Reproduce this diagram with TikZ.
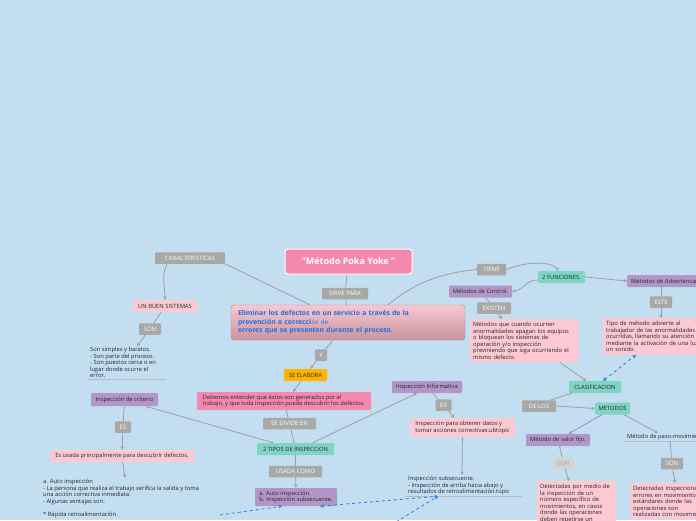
\documentclass[tikz,border=0pt]{standalone}
\usepackage{fontspec}
\setmainfont{Open Sans}
\usetikzlibrary{arrows.meta}

\definecolor{bgblue}{HTML}{C3DEF1}
\definecolor{lblgray}{HTML}{A8A8A6}
\definecolor{palegray}{HTML}{D3D3D3}
\definecolor{softpink}{HTML}{FDC9D3}
\definecolor{hotpink}{HTML}{F489AF}
\definecolor{lilac}{HTML}{B396C9}
\definecolor{lilacline}{HTML}{B07FC8}
\definecolor{mint}{HTML}{7DD5C2}
\definecolor{amber}{HTML}{FFB500}
\definecolor{linegray}{HTML}{9E9E9E}
\definecolor{dashblue}{HTML}{2C7BE0}
\definecolor{inkblue}{HTML}{1C6FE0}
\definecolor{ink}{HTML}{262626}
\definecolor{maintop}{HTML}{F8C8D1}
\definecolor{mainbot}{HTML}{C8939D}
\definecolor{mainedge}{HTML}{B5838E}

\tikzset{
  txt/.style={font=\fontsize{5.8}{6.5}\selectfont, text=ink},
  lbl/.style={fill=lblgray, text=white, font=\fontsize{6}{7}\selectfont, rounded corners=1pt, inner sep=0pt, minimum height=11.5pt},
  topic/.style={txt, rounded corners=1pt, inner sep=2pt, minimum height=12pt},
  pinkbox/.style={topic, fill=softpink},
  lilacbox/.style={topic, fill=lilac},
  mintbox/.style={topic, fill=mint},
  notebox/.style={txt, align=left, inner sep=1pt, anchor=north west},
  titlebox/.style={fill=hotpink, draw=white, line width=1pt, rounded corners=3pt, minimum width=127pt, minimum height=25pt, text=white, font=\bfseries\fontsize{9}{10}\selectfont},
  mainbox/.style={top color=maintop, bottom color=mainbot, draw=mainedge, rounded corners=3pt, minimum width=234pt, minimum height=35pt, text width=220pt, align=left, text=inkblue, font=\bfseries\fontsize{6.8}{8.3}\selectfont},
  conn/.style={draw=linegray, line width=0.8pt},
  link/.style={draw=dashblue, dashed, line width=0.8pt},
  uline/.style={draw=linegray!70, line width=0.5pt},
}

\begin{document}
\begin{tikzpicture}[>={Stealth[length=3.5pt,width=3.5pt]}, x=1pt, y=-1pt]
    \useasboundingbox (0,0) rectangle (696,520);
    \fill[bgblue] (0,0) rectangle (696,520);
    \clip (0,0) rectangle (696,520);

    % central topic
    \node[titlebox] (poka) at (348.5,261.5) {"Método Poka Yoke "};
    \node[mainbox] (fin) at (348,322.5) {Eliminar los defectos en un servicio a través de la\\prevención o correcci{\mdseries\fontsize{6}{8.3}\selectfont ón de}\\errores que se presenten durante el proceso.};

    % gray labels
    \foreach \n/\x/\y/\w/\t in {sirve/345/293.5/46pt/SIRVE PARA, caract/190/258/70pt/CARACTERISTICAS,
        son1/150/329/22pt/SON, es1/123/427/16pt/ES, conj/321/355/12pt/Y, divide/289.5/423.5/53pt/SE DIVIDE EN,
        usadacomo/295.5/471.5/53pt/USADA COMO, es2/443.5/405/16pt/ES, tiene/491.5/269.5/29pt/TIENE,
        existen/494/308/34pt/EXISTEN, este/661/302/22pt/ESTE, delos/539/406/34pt/DE LOS, son3/672/463.5/22pt/SON}
        \node[lbl, minimum width=\w] (\n) at (\x,\y) {\t};
    \node[lbl, minimum width=21pt, fill=palegray, text=lblgray] (son2) at (563.5,463.5) {SON};

    % left branch
    \node[pinkbox, minimum width=64pt] (buen) at (165,306) {UN BUEN SISTEMAS};
    \node[notebox] (simples) at (89,346) {Son simples y baratos.\\- Son parte del proceso.\\- Son puestos cerca o en\\lugar donde ocurre el\\error.};
    \node[lilacbox, minimum width=67pt, minimum height=13pt] (criterio) at (124.5,399.5) {Inspección de criterio};
    \node[pinkbox, minimum width=144pt] (usada) at (122,456) {Es usada principalmente para descubrir defectos.};
    \node[notebox] (auto) at (42,478) {a. Auto inspección\\- La persona que realiza el trabajo verifica la salida y toma\\una acción correctiva inmediata.\\- Algunas ventajas son:\\[6.5pt]* Rápida retroalimentación.};

    % middle branch
    \node[topic, fill=amber, minimum width=43pt] (elabora) at (305.5,375) {SE ELABORA};
    \node[topic, fill=hotpink, minimum width=174pt, minimum height=18pt, align=left] (debemos) at (284,401) {Debemos entender que éstos son generados por el\\trabajo, y que toda inspección puede descubrir los defectos.};
    \node[mintbox, minimum width=77pt] (tipos) at (295.5,449) {2 TIPOS DE INSPECCION};
    \node[lilacbox, minimum width=82pt, minimum height=18pt, align=left] (ab) at (296,497) {a. Auto inspección.\\b. Inspección subsecuente.};
    \node[lilacbox, minimum width=70pt] (informativa) at (427,387) {Inspección Informativa};
    \node[pinkbox, minimum width=105pt, minimum height=19pt, align=left] (obtener) at (462.5,427.5) {Inspección para obtener datos y\\tomar acciones correctivas.ubtopic};
    \node[notebox] (subsec) at (407,475) {Inspección subsecuente.\\- Inspección de arriba hacia abajo y\\resultados de retroalimentación.topic};

    % right branch
    \node[mintbox, minimum width=47pt] (funciones) at (561.5,277) {2 FUNCIONES.};
    \node[lilacbox, minimum width=63pt] (control) at (480.5,291.5) {Métodos de Control.};
    \node[pinkbox, anchor=north west, text width=102pt, inner sep=3pt, align=left] (cuando) at (470,319) {Métodos que cuando ocurren\\anormalidades apagan los equipos\\o bloquean los sistemas de\\operación y/o inspección\\previniendo que siga ocurriendo el\\mismo defecto.};
    \node[lilacbox, anchor=west, inner xsep=4pt] (advert) at (627,281) {Métodos de Advertencia};
    \node[pinkbox, anchor=north west, text width=100pt, inner sep=3pt, align=left] (tipo) at (603,318) {Tipo de método advierte al\\trabajador de las anormalidades\\ocurridas, llamando su atención\\mediante la activación de una luz\\un sonido.};
    \node[mintbox, minimum width=52pt] (clasif) at (595,387) {CLASIFICACION};
    \node[mintbox, minimum width=35pt] (metodos) at (612.5,408.5) {METODOS};
    \node[lilacbox, minimum width=64pt] (valor) at (558,440) {Método de valor fijo.};
    \node[pinkbox, anchor=north west, text width=73pt, inner sep=3pt, align=left] (detect1) at (537,481) {Detectadas por medio de\\la inspección de un\\número específico de\\movimientos, en casos\\donde las operaciones\\deben repetirse un};
    \node[notebox] (paso) at (626,433) {Método de paso-movimiento};
    \node[pinkbox, anchor=north west, text width=90pt, inner sep=3pt, align=left] (detect2) at (630,483) {Detectadas inspeccionando\\errores en movimientos\\estándares donde las\\operaciones son\\realizadas con movimientos};

    \coordinate (lnkA) at (220,515);
    \coordinate (lnkB) at (396,522);

    % underlines of plain topics
    \draw[uline] ([xshift=-1pt]simples.south west) -- ++(78,0);
    \draw[uline] ([xshift=-2pt]subsec.south west) -- ++(117,0);
    \draw[uline] ([xshift=-1pt]paso.south west) -- ++(80,0);

    % connectors
    \draw[conn] (poka) -- (sirve);
    \draw[conn] (sirve) -- (fin);
    \draw[conn] (caract.south east) -- ([xshift=-38pt]fin.north);
    \draw[conn,->] ([xshift=-23pt]caract.south) .. controls +(-6,12) and +(0,-15) .. (buen.north);
    \draw[conn] (buen) -- (son1);
    \draw[conn,->] (son1) -- ([xshift=48pt]simples.north west);
    \draw[conn] (criterio) -- (es1);
    \draw[conn,->] (es1) -- (usada);
    \draw[conn,->] (usada) -- ([xshift=83pt]auto.north west);

    \draw[conn] ([xshift=-15pt]fin.south) -- (conj);
    \draw[conn,->] (conj) -- (elabora);
    \draw[conn,->] (elabora) -- ([xshift=9pt]debemos.north);
    \draw[conn] (debemos) -- (divide);
    \draw[conn] (divide) -- (tipos);
    \draw[conn,->] ([xshift=-22pt]tipos.north) -- ([xshift=21pt]criterio.south);
    \draw[conn,->] ([xshift=17pt]tipos.north) -- ([xshift=-10pt]informativa.south);
    \draw[conn] (tipos) -- (usadacomo);
    \draw[conn,->] (usadacomo) -- (ab);
    \draw[conn] (informativa) -- (es2);
    \draw[conn,->] (es2) -- (obtener);
    \draw[conn,->] (obtener) -- ([xshift=55pt]subsec.north west);

    \draw[conn] ([xshift=40pt]fin.north) .. controls +(30,-25) and +(-30,3) .. (tiene.west);
    \draw[conn,->] (tiene.east) .. controls +(25,-10) and +(-5,-8) .. ([xshift=-3pt]funciones.north);
    \draw[conn,->] ([yshift=-3pt]funciones.west) .. controls +(-12,0) and +(12,-2) .. (control.east);
    \draw[conn] (control) -- (existen);
    \draw[conn,->] (existen) -- ([xshift=32pt]cuando.north west);
    \draw[conn,->] ([xshift=90pt]cuando.south west) -- (clasif);
    \draw[conn,->] (funciones.east) -- (advert.west);
    \draw[conn] (este.north) -- (este.north |- advert.south);
    \draw[conn,->] (este.south) -- (este.south |- tipo.north);
    \draw[conn] ([xshift=3pt]clasif.south west) -- ([xshift=-6pt]delos.north east);
    \draw[conn,->] (delos.east) -- (metodos.west);
    \draw[conn,draw=lilacline,->] (metodos) -- (valor);
    \draw[conn] (valor) -- (son2);
    \draw[conn,->] (son2) -- ([xshift=32pt]detect1.north west);
    \draw[conn,->] (metodos) -- ([xshift=32pt]paso.north west);
    \draw[conn] ([xshift=44pt]paso.south west) -- (son3);
    \draw[conn,->] (son3) -- ([xshift=45pt]detect2.north west);

    % dashed links
    \draw[link,<->] ([xshift=8pt]clasif.north) -- ([xshift=33pt]tipo.south west);
    \draw[link,<->] ([xshift=24pt]ab.south) -- ([xshift=31pt]subsec.south west);
    \draw[link,->] (lnkA) -- ([xshift=-14pt]ab.south);
    \draw[link,->] (lnkB) -- ([xshift=31pt]subsec.south west);
\end{tikzpicture}
\end{document}
